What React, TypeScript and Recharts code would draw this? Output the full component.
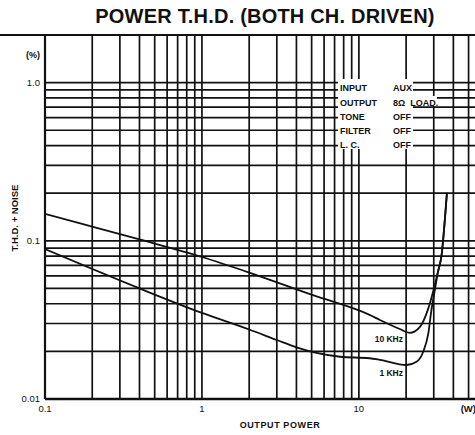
import React from 'react';
import { LineChart, Line, XAxis, YAxis, CartesianGrid } from 'recharts';

// output power (W) and THD+N (%)
const power10k = [0.1, 0.2, 0.4, 1, 2, 5.1, 11.7, 13.6, 18.2, 21.1, 24.5, 27.5, 29.6, 31.8, 33.8, 35.3, 36.4];
const thd10k = [0.148, 0.123, 0.102, 0.079, 0.063, 0.0453, 0.034, 0.0316, 0.0277, 0.0262, 0.0286, 0.0366, 0.0469, 0.0627, 0.084, 0.136, 0.201];

const power1k = [0.1, 0.4, 1, 2, 3, 4, 7.6, 11.7, 13.6, 20.1, 23.3, 25.7, 27.7, 29, 30.5, 31.8, 33.8, 35.3, 36.4];
const thd1k = [0.0886, 0.05, 0.035, 0.0275, 0.0236, 0.0212, 0.0185, 0.0181, 0.0177, 0.0164, 0.0172, 0.0199, 0.026, 0.0366, 0.049, 0.0627, 0.084, 0.136, 0.201];

// log grid positions
const xTicks = [0.1, 0.2, 0.3, 0.4, 0.5, 0.6, 0.7, 0.8, 0.9, 1, 2, 3, 4, 5, 6, 7, 8, 9, 10, 20, 30, 40, 50];
const yTicks = [0.01, 0.02, 0.03, 0.04, 0.05, 0.06, 0.07, 0.08, 0.09, 0.1, 0.2, 0.3, 0.4, 0.5, 0.6, 0.7, 0.8, 0.9, 1, 2];

const xTickLabels: Record<string, string> = { '0.1': '0.1', '1': '1', '10': '10' };
const yTickLabels: Record<string, string> = { '0.01': '0.01', '0.1': '0.1', '1': '1.0' };

const conditions = [
  { name: 'INPUT', value: 'AUX' },
  { name: 'OUTPUT', value: '8Ω  LOAD.' },
  { name: 'TONE', value: 'OFF' },
  { name: 'FILTER', value: 'OFF' },
  { name: 'L. C.', value: 'OFF' }
];

const data10k = power10k.map((p, i) => ({ p, thd: thd10k[i] }));
const data1k = power1k.map((p, i) => ({ p, thd: thd1k[i] }));

const INK = '#111';
const FONT = '"Liberation Sans", Arial, sans-serif';

const XTick = (props: any) => {
  const { x, payload } = props;
  const label = xTickLabels[String(payload.value)];
  if (!label) return null;
  return (
    <text x={x} y={412} textAnchor="middle" fontSize={9.5} fontFamily={FONT} fill={INK}>
      {label}
    </text>
  );
};

const YTick = (props: any) => {
  const { y, payload } = props;
  const label = yTickLabels[String(payload.value)];
  if (!label) return null;
  return (
    <text x={40} y={y + 3} textAnchor="end" fontSize={9.5} fontFamily={FONT} fill={INK}>
      {label}
    </text>
  );
};

const rowY = [88, 103, 117, 131, 145];

const App = () => {
  return (
    <div style={{ position: 'fixed', left: 0, top: 0, width: 475, height: 435, overflow: 'hidden', background: '#fff' }}>
      <LineChart width={481} height={435} margin={{ top: 35, right: 0, left: 0, bottom: 0 }}>
        <CartesianGrid stroke={INK} strokeWidth={1.7} />
        <XAxis
          type="number"
          dataKey="p"
          scale="log"
          domain={[0.1, 60]}
          ticks={xTicks}
          allowDataOverflow
          height={36}
          tickLine={false}
          axisLine={{ stroke: INK, strokeWidth: 2.5 }}
          tick={<XTick />}
          interval={0}
        />
        <YAxis
          type="number"
          scale="log"
          domain={[0.01, 2]}
          ticks={yTicks}
          allowDataOverflow
          width={45}
          tickLine={false}
          axisLine={{ stroke: INK, strokeWidth: 2.2 }}
          tick={<YTick />}
          interval={0}
        />
        <Line data={data10k} dataKey="thd" type="monotone" stroke={INK} strokeWidth={1.8} dot={false} isAnimationActive={false} />
        <Line data={data1k} dataKey="thd" type="monotone" stroke={INK} strokeWidth={1.8} dot={false} isAnimationActive={false} />
      </LineChart>
      <svg width={475} height={435} style={{ position: 'absolute', left: 0, top: 0, pointerEvents: 'none' }}>
        <line x1={0} y1={35} x2={475} y2={35} stroke={INK} strokeWidth={2} />
        <text x={265} y={23} textAnchor="middle" fontSize={20} fontWeight="bold" fontFamily={FONT} fill={INK} letterSpacing={0.2}>
          POWER T.H.D. (BOTH CH. DRIVEN)
        </text>
        <text x={40} y={58} textAnchor="end" fontSize={9} fontWeight="bold" fontFamily={FONT} fill={INK}>(%)</text>
        <text
          x={0}
          y={0}
          transform="translate(18 218) rotate(-90)"
          textAnchor="middle"
          fontSize={9.5}
          fontWeight="bold"
          fontFamily={FONT}
          fill={INK}
        >
          T.H.D. + NOISE
        </text>
        <text x={476} y={412} textAnchor="end" fontSize={9.5} fontWeight="bold" fontFamily={FONT} fill={INK}>(W)</text>
        <text x={280} y={428} textAnchor="middle" fontSize={9} fontWeight="bold" fontFamily={FONT} fill={INK} letterSpacing={0.6}>
          OUTPUT POWER
        </text>
        <text x={403} y={342} textAnchor="end" fontSize={8.5} fontWeight="bold" fontFamily={FONT} fill={INK}>10 KHz</text>
        <text x={403} y={376} textAnchor="end" fontSize={8.5} fontWeight="bold" fontFamily={FONT} fill={INK}>1 KHz</text>
        <rect x={338} y={79} width={75} height={70} fill="#fff" />
        <rect x={413} y={96} width={24} height={10} fill="#fff" />
        {conditions.map((c, i) => (
          <g key={c.name}>
            <text x={340} y={rowY[i] + 3} fontSize={9} fontWeight="bold" fontFamily={FONT} fill={INK}>{c.name}</text>
            <text x={393} y={rowY[i] + 3} fontSize={9} fontWeight="bold" fontFamily={FONT} fill={INK} style={{ whiteSpace: 'pre' }}>{c.value}</text>
          </g>
        ))}
      </svg>
    </div>
  );
};

export default App;
